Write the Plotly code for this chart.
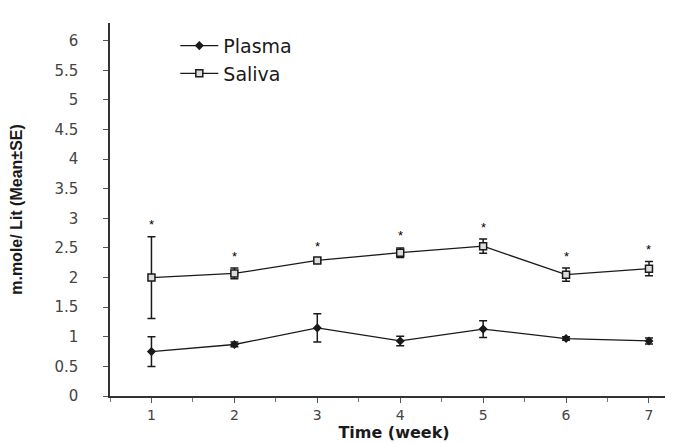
import plotly.graph_objects as go

weeks = [1, 2, 3, 4, 5, 6, 7]
plasma_mean = [0.75, 0.87, 1.15, 0.93, 1.13, 0.97, 0.93]
plasma_se = [0.25, 0.04, 0.24, 0.08, 0.14, 0.03, 0.05]
saliva_mean = [2.0, 2.07, 2.29, 2.42, 2.53, 2.05, 2.15]
saliva_se = [0.69, 0.09, 0.04, 0.08, 0.12, 0.11, 0.12]
sig_marks = ["*", "*", "*", "*", "*", "*", "*"]
y_ticks = [0, 0.5, 1, 1.5, 2, 2.5, 3, 3.5, 4, 4.5, 5, 5.5, 6]
y_tick_labels = ["0", "0.5", "1", "1.5", "2", "2.5", "3", "3.5", "4", "4.5", "5", "5.5", "6"]

ink = "#1a1a1a"
font_fam = "DejaVu Sans, Arial, sans-serif"

fig = go.Figure()
fig.add_trace(go.Scatter(
    x=weeks, y=plasma_mean, name="Plasma", mode="lines+markers",
    line=dict(color=ink, width=1.3),
    marker=dict(symbol="diamond", size=7, color=ink),
    error_y=dict(type="data", array=plasma_se, color=ink, thickness=1.5, width=4),
))
fig.add_trace(go.Scatter(
    x=weeks, y=saliva_mean, name="Saliva", mode="lines+markers",
    line=dict(color=ink, width=1.3),
    marker=dict(symbol="square", size=7, color="#dddddd", line=dict(color=ink, width=1.5)),
    error_y=dict(type="data", array=saliva_se, color=ink, thickness=1.5, width=4),
))

for w, m, s, t in zip(weeks, saliva_mean, saliva_se, sig_marks):
    fig.add_annotation(x=w, y=m + s, text=t, showarrow=False, yshift=12,
                       font=dict(size=13, color="black", family="Liberation Sans, Arial"))

fig.update_layout(
    width=673, height=443,
    margin=dict(l=102, r=3, t=15, b=55),
    paper_bgcolor="white", plot_bgcolor="white",
    showlegend=True,
    legend=dict(x=0.115, y=0.99, xanchor="left", yanchor="top",
                bgcolor="rgba(0,0,0,0)", font=dict(size=19, color=ink, family=font_fam),
                itemwidth=38, tracegroupgap=0),
    font=dict(family=font_fam, color=ink),
)
fig.update_xaxes(
    range=[0.5, 7.35], tickvals=weeks, ticktext=[str(w) for w in weeks],
    showgrid=False, zeroline=False, showline=True, linecolor="#333333", linewidth=1.5,
    ticks="outside", ticklen=5, tickcolor="#555555",
    minor=dict(ticks="outside", ticklen=4, dtick=0.5, tick0=0.5, tickcolor="#777777"),
    tickfont=dict(size=14, color="#444444", family=font_fam),
    title=dict(text="<b>Time (week)</b>", font=dict(size=16, color=ink, family=font_fam), standoff=5),
)
fig.update_yaxes(
    range=[0, 6.3], tickvals=y_ticks, ticktext=y_tick_labels,
    showgrid=False, zeroline=False, showline=True, linecolor="#333333", linewidth=1.5,
    ticks="outside", ticklen=5, tickcolor="#555555", ticklabelstandoff=22,
    tickfont=dict(size=15, color="#444444", family=font_fam),
    title=dict(text="<b>m.mole/ Lit (Mean±SE)</b>", font=dict(size=16, color=ink, family="Liberation Sans Narrow, Liberation Sans, Arial, sans-serif"), standoff=28),
)

fig.write_html("out.html")
